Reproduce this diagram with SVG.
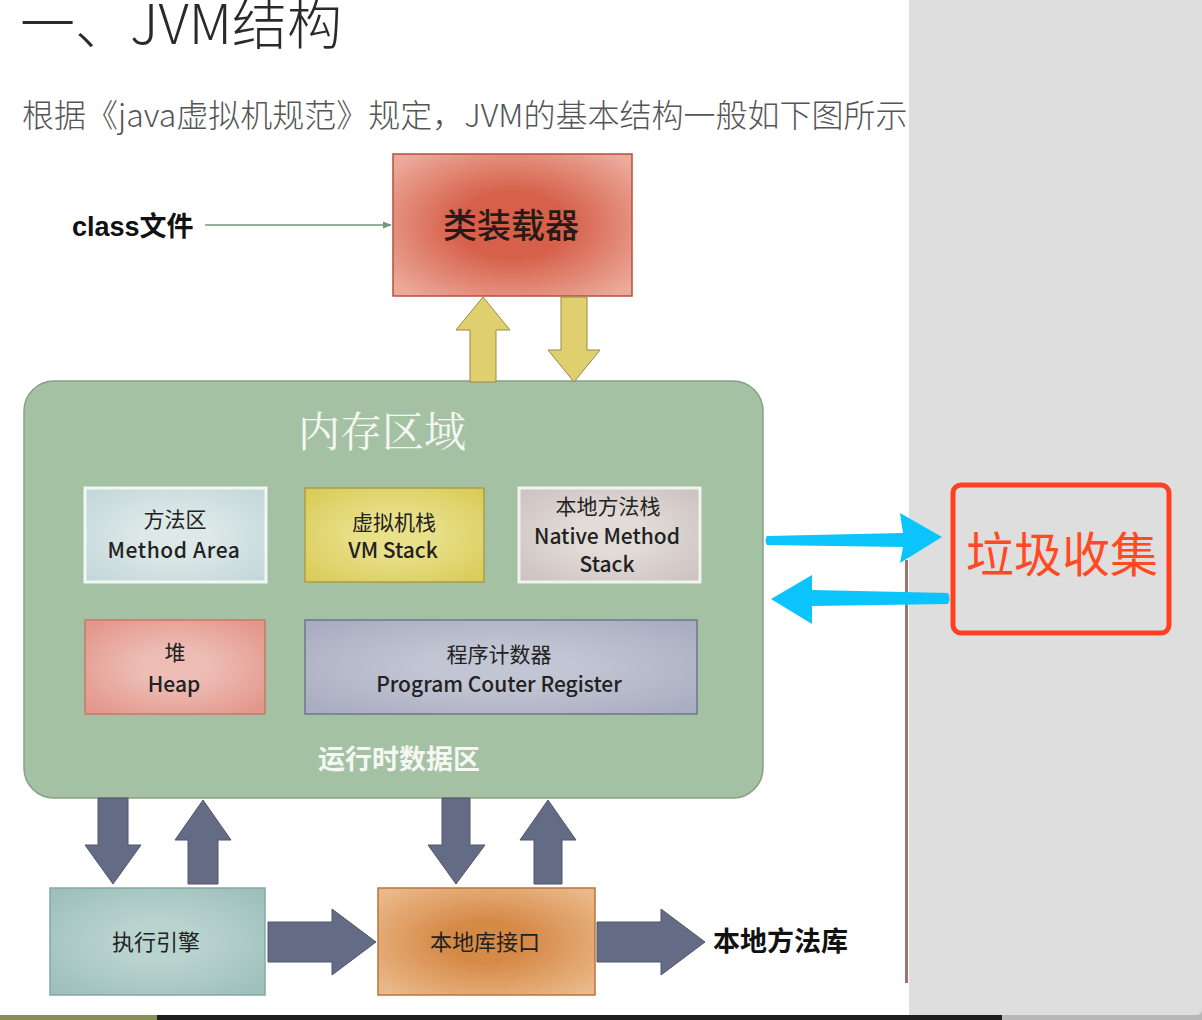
<svg xmlns="http://www.w3.org/2000/svg" width="1202" height="1020" viewBox="0 0 1202 1020">
<defs>
<style>
.cjk{font-family:"Noto Sans CJK SC","Liberation Sans",sans-serif}
.lbl{font-family:"Noto Sans CJK SC","Liberation Sans",sans-serif;font-size:21px;fill:#222;text-anchor:middle}
.lbl2{font-family:"Noto Sans CJK SC","Liberation Sans",sans-serif;font-size:22px;fill:#222;text-anchor:middle}
.ser{font-family:"Noto Serif CJK SC","Noto Sans CJK SC",serif}
.dk{fill:#646b85;stroke:#50566d;stroke-width:1}
.ye{fill:#e0cf6e;stroke:#9a8a45;stroke-width:1}
.cy{fill:#0bc4fb}
</style>
<radialGradient id="gRed" cx="50%" cy="50%" r="65%"><stop offset="0.35" stop-color="#d6604a"/><stop offset="1" stop-color="#ecaa9b"/></radialGradient>
<radialGradient id="gOr" cx="50%" cy="50%" r="65%"><stop offset="0.3" stop-color="#d68a48"/><stop offset="1" stop-color="#eab98a"/></radialGradient>
<radialGradient id="gTeal" cx="50%" cy="50%" r="65%"><stop offset="0.3" stop-color="#b9d3cf"/><stop offset="1" stop-color="#9ebfbb"/></radialGradient>
<radialGradient id="gMeth" cx="50%" cy="50%" r="65%"><stop offset="0.3" stop-color="#dde8e8"/><stop offset="1" stop-color="#c3d8da"/></radialGradient>
<radialGradient id="gVm" cx="50%" cy="50%" r="65%"><stop offset="0.3" stop-color="#e9e08a"/><stop offset="1" stop-color="#d9cc5a"/></radialGradient>
<radialGradient id="gNat" cx="50%" cy="50%" r="65%"><stop offset="0.3" stop-color="#e2dbd8"/><stop offset="1" stop-color="#cdc4c1"/></radialGradient>
<radialGradient id="gHeap" cx="50%" cy="50%" r="65%"><stop offset="0.3" stop-color="#edbcb4"/><stop offset="1" stop-color="#e3968a"/></radialGradient>
<radialGradient id="gPc" cx="50%" cy="50%" r="65%"><stop offset="0.3" stop-color="#c2c5d3"/><stop offset="1" stop-color="#a9adc0"/></radialGradient>
<marker id="mArr" viewBox="0 0 10 10" refX="9" refY="5" markerWidth="6" markerHeight="6" orient="auto"><path d="M0,1 L10,5 L0,9 z" fill="#6f9a7c"/></marker>
</defs>
<rect x="0" y="0" width="1202" height="1020" fill="#ffffff"/>

<!-- header text -->
<text x="20" y="44" class="cjk" font-size="55" font-weight="300" fill="#2a2a2a">一、JVM结构</text>
<text x="22" y="127" class="cjk" font-size="32" font-weight="300" fill="#555">根据《java虚拟机规范》规定，JVM的基本结构一般如下图所示</text>

<!-- memory area -->
<g id="memory-area">
<rect x="24" y="381" width="739" height="417" rx="30" fill="#a5c1a3" stroke="#879f86" stroke-width="1.5"/>
<text x="382" y="447" class="ser" font-size="42" fill="#f4f7f2" text-anchor="middle">内存区域</text>
<text x="399" y="769" class="cjk" font-size="27" font-weight="bold" fill="#f4f7f2" text-anchor="middle">运行时数据区</text>
</g>

<g id="method-area">
<rect x="85" y="488" width="181" height="94" fill="url(#gMeth)" stroke="#f2f6f4" stroke-width="3"/>
<text x="175" y="527" class="lbl">方法区</text>
<text x="174" y="558" class="lbl" font-weight="500" letter-spacing="0.6">Method Area</text>
</g>
<g id="vm-stack">
<rect x="305" y="488" width="179" height="94" fill="url(#gVm)" stroke="#aa9e45" stroke-width="1.5"/>
<text x="394" y="530" class="lbl">虚拟机栈</text>
<text x="393" y="558" class="lbl" font-weight="500">VM Stack</text>
</g>
<g id="native-stack">
<rect x="519" y="488" width="181" height="94" fill="url(#gNat)" stroke="#f2f2f0" stroke-width="3"/>
<text x="608" y="514" class="lbl">本地方法栈</text>
<text x="607" y="544" class="lbl" font-weight="500">Native Method</text>
<text x="607" y="572" class="lbl" font-weight="500">Stack</text>
</g>
<g id="heap">
<rect x="85" y="620" width="180" height="94" fill="url(#gHeap)" stroke="#c4796b" stroke-width="1.5"/>
<text x="175" y="660" class="lbl">堆</text>
<text x="174" y="692" class="lbl" font-weight="500">Heap</text>
</g>
<g id="pc-register">
<rect x="305" y="620" width="392" height="94" fill="url(#gPc)" stroke="#6e7590" stroke-width="1.5"/>
<text x="499" y="662" class="lbl">程序计数器</text>
<text x="499" y="692" class="lbl" font-weight="500">Program Couter Register</text>
</g>

<g id="class-loader">
<rect x="393" y="154" width="239" height="142" fill="url(#gRed)" stroke="#b4503e" stroke-width="1.5"/>
<text x="511" y="238" class="cjk" font-size="34" font-weight="500" fill="#2a1a16" text-anchor="middle">类装载器</text>
</g>

<g id="class-file">
<text x="72" y="236" font-size="27" font-weight="bold" fill="#111"><tspan font-family="Liberation Sans, Arial, sans-serif">class</tspan><tspan class="cjk">文件</tspan></text>
</g>

<g id="exec-engine">
<rect x="50" y="888" width="215" height="107" fill="url(#gTeal)" stroke="#84a8a4" stroke-width="1.5"/>
<text x="156" y="950" class="lbl2">执行引擎</text>
</g>
<g id="native-interface">
<rect x="378" y="888" width="217" height="107" fill="url(#gOr)" stroke="#b9743a" stroke-width="1.5"/>
<text x="485" y="950" class="lbl2">本地库接口</text>
</g>
<g id="native-lib">
<text x="713" y="951" class="cjk" font-size="27" font-weight="bold" fill="#111">本地方法库</text>
</g>

<!-- gray side panel -->
<rect x="909" y="0" width="293" height="1015" fill="#dedede"/>
<path d="M1196,1015 Q1202,1015 1202,1008 L1202,1015 z" fill="#bdbdbd"/>
<rect x="905" y="560" width="3" height="423" fill="#9c7272"/>

<g id="gc">
<rect x="953" y="485" width="216" height="148" rx="8" fill="none" stroke="#ff4020" stroke-width="5"/>
<text x="1062" y="572" class="cjk" font-size="48" fill="#ff4a22" text-anchor="middle">垃圾收集</text>
</g>

<g id="connectors">
<line x1="205" y1="225" x2="391" y2="225" stroke="#6f9a7c" stroke-width="1.5" marker-end="url(#mArr)"/>
<!-- yellow arrows -->
<path class="ye" d="M470,382 L470,330 L456,330 L483,297 L510,330 L496,330 L496,382 z"/>
<path class="ye" d="M561,297 L587,297 L587,350 L600,350 L574,382 L548,350 L561,350 z"/>
<!-- bottom dark arrows -->
<path class="dk" d="M98,798 L128,798 L128,845 L141,845 L113,884 L85,845 L98,845 z"/>
<path class="dk" d="M188,884 L218,884 L218,840 L231,840 L203,800 L175,840 L188,840 z"/>
<path class="dk" d="M442,798 L470,798 L470,845 L485,845 L456,884 L428,845 L442,845 z"/>
<path class="dk" d="M534,884 L562,884 L562,840 L576,840 L548,800 L520,840 L534,840 z"/>
<path class="dk" d="M268,922 L332,922 L332,909 L376,942 L332,975 L332,962 L268,962 z"/>
<path class="dk" d="M597,922 L661,922 L661,909 L705,942 L661,975 L661,962 L597,962 z"/>
<!-- cyan arrows -->
<path class="cy" d="M767,536 L903,533 L900,513 L942,537 L900,563 L903,547 L767,545 Q764,540 767,536 z"/>
<path class="cy" d="M948,593 Q951,599 948,604 L812,606 L812,624 L771,599 L812,575 L812,590 z"/>
</g>

<!-- bottom strip -->
<rect x="0" y="1015" width="1202" height="5" fill="#1e1e1e"/>
<rect x="0" y="1015" width="157" height="5" fill="#8a8f5a"/>
<rect x="1002" y="1015" width="200" height="5" fill="#b8b8b8"/>
</svg>
